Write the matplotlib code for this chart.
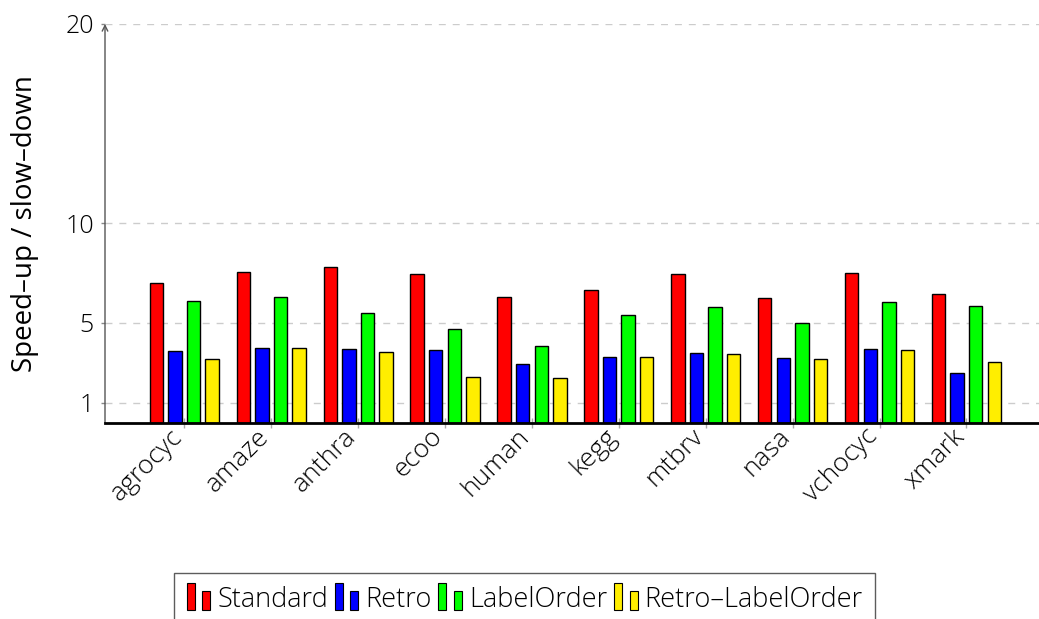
import matplotlib
matplotlib.use("Agg")
import matplotlib.pyplot as plt
import matplotlib.transforms as mtransforms
from matplotlib.patches import Rectangle
from matplotlib.legend_handler import HandlerBase
import numpy as np

plt.rcParams['font.family'] = ['Open Sans', 'DejaVu Sans']
plt.rcParams['font.weight'] = 'light'

categories = ["agrocyc", "amaze", "anthra", "ecoo", "human", "kegg", "mtbrv", "nasa", "vchocyc", "xmark"]
series_names = ["Standard", "Retro", "LabelOrder", "Retro–LabelOrder"]
standard = [7.02, 7.54, 7.82, 7.46, 6.32, 6.64, 7.44, 6.24, 7.52, 6.47]
retro = [3.61, 3.74, 3.69, 3.66, 2.96, 3.28, 3.48, 3.24, 3.71, 2.47]
labelorder = [6.09, 6.29, 5.48, 4.68, 3.83, 5.38, 5.82, 5.01, 6.05, 5.85]
retro_labelorder = [3.21, 3.74, 3.53, 2.27, 2.24, 3.31, 3.43, 3.18, 3.66, 3.06]
yticks = [1, 5, 10, 20]

series = [standard, retro, labelorder, retro_labelorder]
colors = ["#ff0000", "#0000ff", "#00ff00", "#ffee00"]

fig = plt.figure(figsize=(10.39, 6.19), dpi=100)
ax = fig.add_axes([105/1039, 1-422.6/619, 1-105/1039, (422.6-24)/619])

x = np.arange(len(categories))
step = 0.214
width = 0.155
bars = []
for i, (vals, col) in enumerate(zip(series, colors)):
    b = ax.bar(x + (i - 1.5) * step, vals, width=width, color=col,
               edgecolor="black", linewidth=1.0, zorder=3, label=series_names[i])
    bars.append(b)

ax.set_xlim(-0.913, 9.835)
ax.set_ylim(0, 20)
ax.set_yticks(yticks)
ax.set_yticklabels([str(t) for t in yticks], fontsize=18, color="#000000")
ax.set_xticks(x)
ax.set_xticklabels(categories, rotation=45, ha="right", va="center",
                   rotation_mode="anchor", fontsize=19, color="#000000")
ax.tick_params(axis="x", direction="inout", length=7, color="#aaaaaa", width=1, pad=4)
ax.tick_params(axis="y", direction="out", length=3, color="#888888", width=1, pad=5)
offset = mtransforms.ScaledTranslation(-6 / 100, 0, fig.dpi_scale_trans)
for lbl in ax.get_xticklabels():
    lbl.set_transform(lbl.get_transform() + offset)
ax.grid(axis="y", linestyle=(0, (5, 5)), color="#cccccc", linewidth=1, zorder=0)
ax.set_axisbelow(True)

for s in ["top", "right", "left"]:
    ax.spines[s].set_visible(False)
ax.spines["bottom"].set_color("black")
ax.spines["bottom"].set_linewidth(2)
ax.spines["bottom"].set_zorder(4)
ax.annotate("", xy=(0, 1.0), xytext=(0, 0), xycoords="axes fraction",
            arrowprops=dict(arrowstyle="->", color="#555555", lw=1, shrinkA=0, shrinkB=0))

ax.set_ylabel("Speed–up / slow–down", fontsize=20, color="#000000", labelpad=19)


class TwoBarHandler(HandlerBase):
    def create_artists(self, legend, orig_handle, xdescent, ydescent, width, height, fontsize, trans):
        col = orig_handle.patches[0].get_facecolor()
        w = width * 0.34
        r1 = Rectangle((-xdescent, -ydescent - 0.2 * height), w, height * 1.45,
                       facecolor=col, edgecolor="black", lw=0.8, transform=trans)
        r2 = Rectangle((-xdescent + width * 0.66, -ydescent - 0.2 * height), w, height * 1.05,
                       facecolor=col, edgecolor="black", lw=0.8, transform=trans)
        return [r1, r2]


leg = fig.legend(handles=bars, labels=series_names, loc="lower center",
                 bbox_to_anchor=(0.505, -0.011), ncol=4, fontsize=19.5,
                 frameon=True, fancybox=False, edgecolor="#333333",
                 handler_map={type(bars[0]): TwoBarHandler()},
                 handlelength=0.88, handletextpad=0.25, columnspacing=0.25,
                 borderpad=0.45, borderaxespad=0)
leg.get_frame().set_linewidth(1)

fig.savefig("out.png", dpi=100)
